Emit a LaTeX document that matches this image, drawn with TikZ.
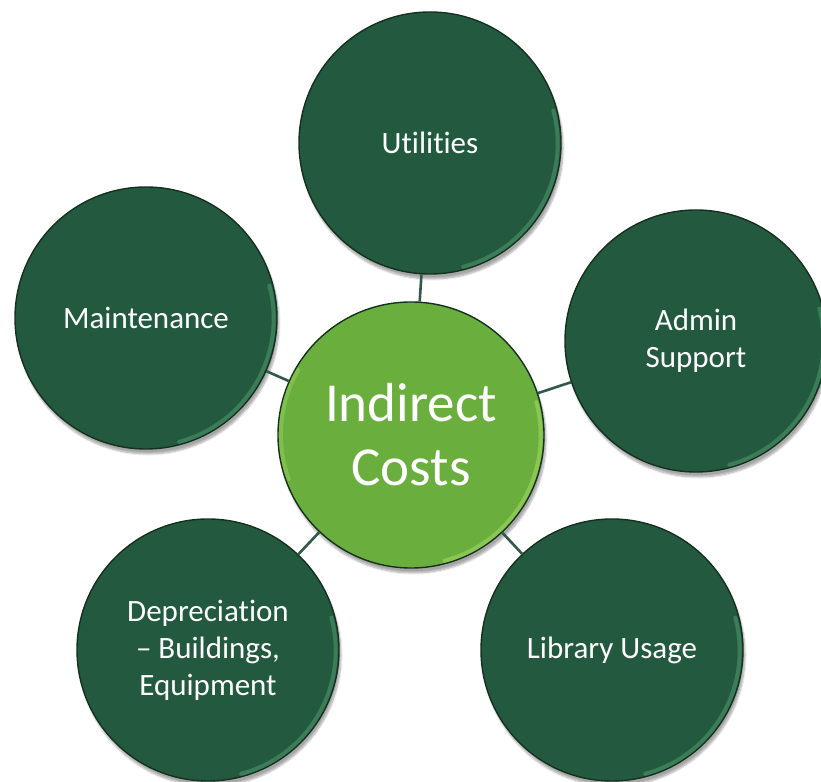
\documentclass[tikz,border=0pt]{standalone}
\usepackage{fontspec}
\setmainfont{Carlito}[RawFeature=-liga]
\usetikzlibrary{shadows.blur}
\definecolor{darkfill}{HTML}{235A3F}
\definecolor{lightfill}{HTML}{6AAF3D}
\definecolor{linecol}{HTML}{2F5A48}
\definecolor{rimdark}{HTML}{4F9A70}
\definecolor{rimlight}{HTML}{A3D965}
\definecolor{edgecol}{HTML}{15301F}
\begin{document}
\begin{tikzpicture}[x=1pt,y=1pt,
  outer/.style={circle, minimum size=262pt, inner sep=0pt, fill=darkfill, draw=edgecol, line width=1.4pt,
    text=white, align=center, font=\fontsize{31}{37}\selectfont,
    blur shadow={shadow xshift=2pt, shadow yshift=-5pt, shadow blur steps=8, shadow opacity=35}},
  hub/.style={circle, minimum size=266pt, inner sep=0pt, fill=lightfill, draw=edgecol, line width=1.4pt,
    text=white, align=center, font=\fontsize{55}{64}\selectfont,
    blur shadow={shadow xshift=2pt, shadow yshift=-5pt, shadow blur steps=8, shadow opacity=35}},
  link/.style={draw=linecol, line width=2.6pt},
  rim/.style={line width=4pt, line cap=round, opacity=0.55}]
\useasboundingbox (0,0) rectangle (821,781);
\node[hub]   (c) at (411,346) {Indirect\\Costs};
\node[outer] (u) at (430,638) {Utilities};
\node[outer] (m) at (146,463) {Maintenance};
\node[outer] (a) at (696,440) {Admin\\Support};
\node[outer] (d) at (208,131) {Depreciation\\– Buildings,\\Equipment};
\node[outer] (l) at (612,131) {Library Usage};
% bevel rims
\foreach \n in {u,m,a,d,l}{
  \draw[rim, draw=rimdark] ([shift={(-75:-3.5pt)}]\n.-75) arc[start angle=-75, end angle=15, radius=127.5pt];
}
\draw[rim, draw=rimlight] ([shift={(-75:-3.5pt)}]c.-75) arc[start angle=-75, end angle=15, radius=129.5pt];
\draw[rim, draw=rimlight, opacity=0.4] ([shift={(150:-3.5pt)}]c.150) arc[start angle=150, end angle=200, radius=129.5pt];
% connectors
\draw[link] (c) -- (u);
\draw[link] (c) -- (m);
\draw[link] (c) -- (a);
\draw[link] (c) -- (d);
\draw[link] (c) -- (l);
\end{tikzpicture}
\end{document}
